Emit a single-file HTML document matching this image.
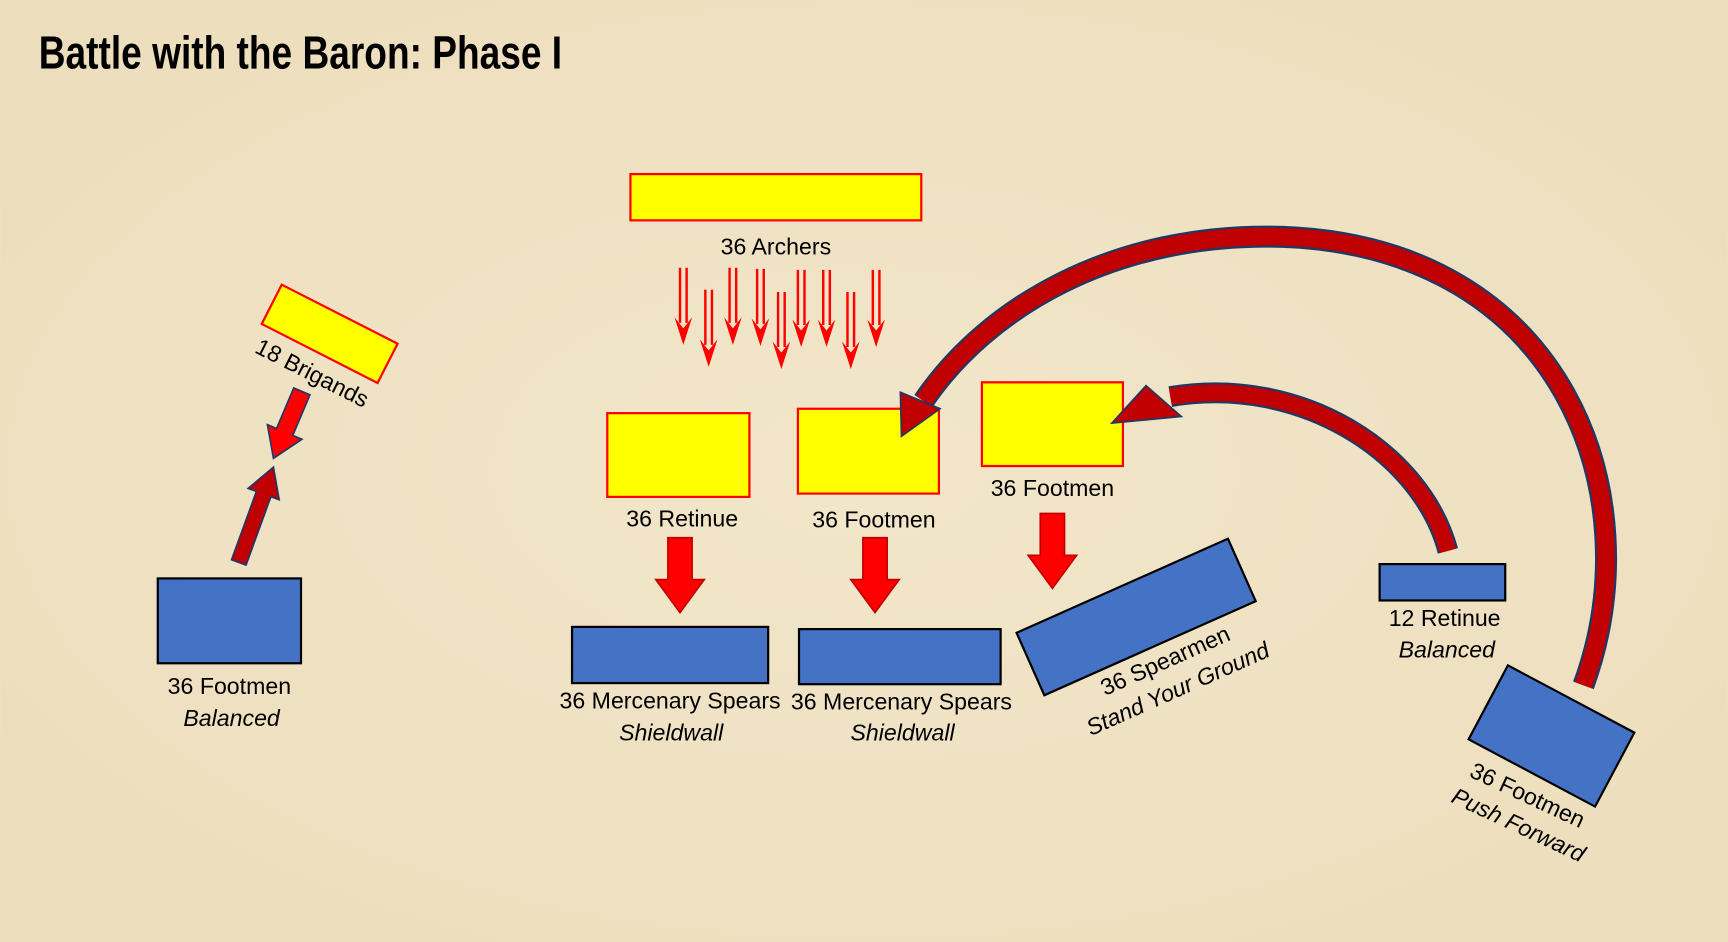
<!DOCTYPE html>
<html><head><meta charset="utf-8"><style>
html,body{margin:0;padding:0;background:#F0E3C5;}
svg{display:block;}
text{font-family:"Liberation Sans Narrow","Liberation Sans",sans-serif;fill:#000;}
</style></head><body>
<svg width="1728" height="942" viewBox="0 0 1568 855" xmlns="http://www.w3.org/2000/svg">
<defs>
<radialGradient id="bg" cx="50%" cy="50%" r="70%"><stop offset="0" stop-color="#F2E6CA"/><stop offset="1" stop-color="#ECDDBB"/></radialGradient>
<g id="sa"><path d="M-3,0 V50 M3,0 V50" stroke="#f00" stroke-width="2.2" fill="none"/><path d="M-8,45 L0,70 L8,45 L0,55 Z" fill="#f00"/></g>
<path id="ba" d="M-11,0 H11 V38 H22 L0,68 L-22,38 H-11 Z" fill="#f00" stroke="#c00000" stroke-width="1.5"/>
</defs>
<rect width="1568" height="855" fill="url(#bg)"/>
<text x="35" y="62" font-size="42" font-weight="bold" textLength="475" lengthAdjust="spacingAndGlyphs">Battle with the Baron: Phase I</text>

<rect x="572" y="158" width="264" height="42" fill="#ff0" stroke="#f00" stroke-width="2"/>
<text x="704" y="231" font-size="21" text-anchor="middle">36 Archers</text>
<use href="#sa" x="620" y="243"/><use href="#sa" x="643" y="263"/><use href="#sa" x="665" y="243"/>
<use href="#sa" x="690" y="244"/><use href="#sa" x="709" y="265"/><use href="#sa" x="727" y="245"/>
<use href="#sa" x="750" y="245"/><use href="#sa" x="772" y="265"/><use href="#sa" x="795" y="245"/>

<rect x="551" y="375" width="129" height="76" fill="#ff0" stroke="#f00" stroke-width="2"/>
<text x="619" y="478" font-size="21" text-anchor="middle">36 Retinue</text>
<rect x="724" y="371" width="128" height="77" fill="#ff0" stroke="#f00" stroke-width="2"/>
<text x="793" y="479" font-size="21" text-anchor="middle">36 Footmen</text>
<rect x="891" y="347" width="128" height="76" fill="#ff0" stroke="#f00" stroke-width="2"/>
<text x="955" y="450" font-size="21" text-anchor="middle">36 Footmen</text>

<use href="#ba" x="617" y="488"/><use href="#ba" x="794" y="488"/><use href="#ba" x="955" y="466"/>

<rect x="519" y="569" width="178" height="51" fill="#4472C4" stroke="#000" stroke-width="2"/>
<text x="608" y="643" font-size="21" text-anchor="middle">36 Mercenary Spears</text>
<text x="609" y="672" font-size="21" font-style="italic" text-anchor="middle">Shieldwall</text>
<rect x="725" y="571" width="183" height="50" fill="#4472C4" stroke="#000" stroke-width="2"/>
<text x="818" y="644" font-size="21" text-anchor="middle">36 Mercenary Spears</text>
<text x="819" y="672" font-size="21" font-style="italic" text-anchor="middle">Shieldwall</text>

<g transform="translate(1031,560) rotate(-24)">
<rect x="-105" y="-31" width="210" height="62" fill="#4472C4" stroke="#000" stroke-width="2"/>
<text x="8" y="54" font-size="21" text-anchor="middle">36 Spearmen</text>
<text x="8" y="82" font-size="21" font-style="italic" text-anchor="middle">Stand Your Ground</text>
</g>

<rect x="1252" y="512" width="114" height="33" fill="#4472C4" stroke="#000" stroke-width="2"/>
<text x="1311" y="568" font-size="21" text-anchor="middle">12 Retinue</text>
<text x="1313" y="597" font-size="21" font-style="italic" text-anchor="middle">Balanced</text>

<g transform="translate(1408,668) rotate(28)">
<rect x="-65" y="-38" width="130" height="76" fill="#4472C4" stroke="#000" stroke-width="2"/>
</g>
<g transform="translate(1408,668) rotate(25)">
<text x="3" y="65" font-size="21" text-anchor="middle">36 Footmen</text>
<text x="7" y="93" font-size="21" font-style="italic" text-anchor="middle">Push Forward</text>
</g>

<rect x="143" y="525" width="130" height="77" fill="#4472C4" stroke="#000" stroke-width="2"/>
<text x="208" y="630" font-size="21" text-anchor="middle">36 Footmen</text>
<text x="210" y="659" font-size="21" font-style="italic" text-anchor="middle">Balanced</text>

<g transform="translate(299,303) rotate(27)">
<rect x="-59" y="-20" width="118" height="40" fill="#ff0" stroke="#f00" stroke-width="2"/>
<text x="2" y="46" font-size="21" text-anchor="middle">18 Brigands</text>
</g>

<g stroke="#1f3864" stroke-width="1.5">
<g transform="translate(248,424) rotate(20)"><path fill="#C00000" d="M-7,92 V26 H-15 L0,0 L15,26 H7 V92 Z"/></g>
<g transform="translate(248,416) rotate(23)"><path fill="#f00" d="M-8,-66 V-26 H-17 L0,0 L17,-26 H8 V-66 Z"/></g>
</g>

<g fill="none">
<path d="M1437,622 C1500,450 1420,225 1165,215 C1010,210 895,280 838,364" stroke="#1f3864" stroke-width="20"/>
<path d="M1437,622 C1500,450 1420,225 1165,215 C1010,210 895,280 838,364" stroke="#C00000" stroke-width="16"/>
<path d="M1314,500 C1290,410 1180,340 1062,360" stroke="#1f3864" stroke-width="19"/>
<path d="M1314,500 C1290,410 1180,340 1062,360" stroke="#C00000" stroke-width="15"/>
</g>
<g fill="#C00000" stroke="#1f3864" stroke-width="1.5">
<path d="M818,396 L817,356 L853,371 Z"/>
<path d="M1009,384 L1040,350 L1072,378 Z"/>
</g>
</svg>
</body></html>
